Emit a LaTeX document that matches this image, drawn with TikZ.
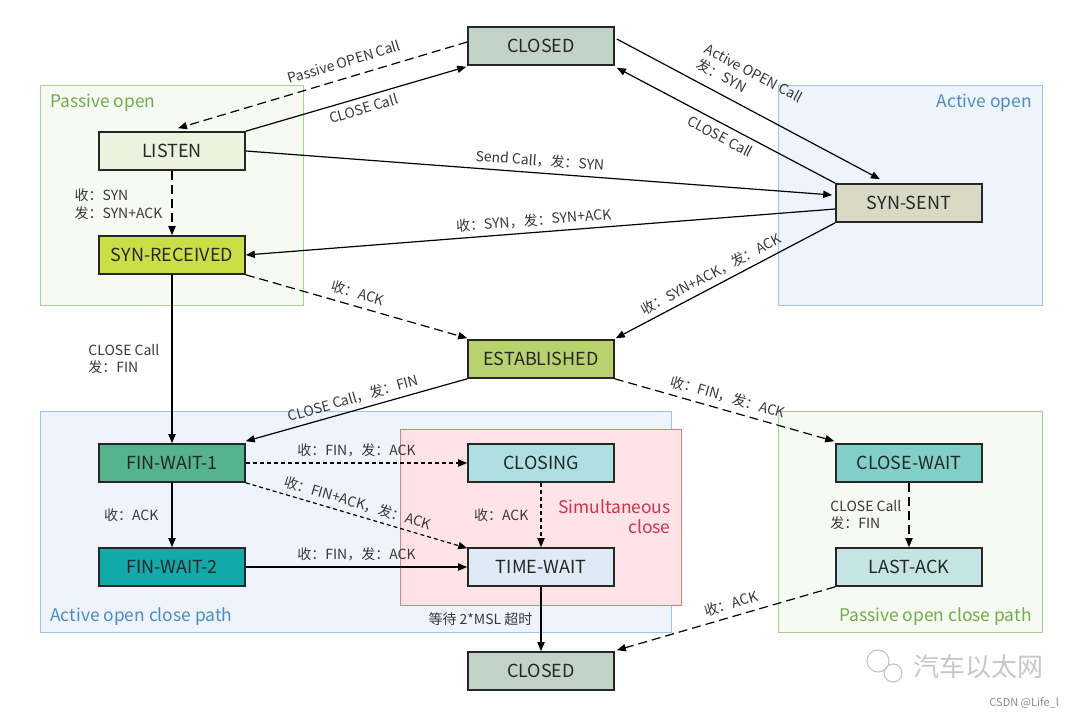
\documentclass[tikz,border=0pt]{standalone}
\usepackage{fontspec}
\setmainfont{Noto Sans CJK SC}
\usepackage{xcolor}
\usepackage{tikz}
\usetikzlibrary{arrows, arrows.meta}
\usetikzlibrary{calc}

\definecolor{fillClosed}{HTML}{C0D3C5}
\definecolor{fillListen}{HTML}{EBF3DF}
\definecolor{fillSynRcvd}{HTML}{CADF45}
\definecolor{fillSynSent}{HTML}{D8DAC5}
\definecolor{fillEstab}{HTML}{B8D26E}
\definecolor{fillFinOne}{HTML}{55B48F}
\definecolor{fillFinTwo}{HTML}{12A9AA}
\definecolor{fillClosing}{HTML}{AEDFE3}
\definecolor{fillTimeWait}{HTML}{DEEAF5}
\definecolor{fillCloseWait}{HTML}{80D0C9}
\definecolor{fillLastAck}{HTML}{C5E4E4}
\definecolor{grpGreen}{HTML}{A9D18E}
\definecolor{grpGreenFill}{HTML}{F6FAF2}
\definecolor{grpGreenText}{HTML}{70AD47}
\definecolor{grpBlue}{HTML}{9DC3E6}
\definecolor{grpBlueFill}{HTML}{EEF4FB}
\definecolor{grpBlueText}{HTML}{4A8CCB}
\definecolor{grpRed}{HTML}{E07B80}
\definecolor{grpRedFill}{HTML}{FFE3E6}
\definecolor{grpRedText}{HTML}{D5304A}

\tikzset{
  stbox/.style={draw=black!85, line width=0.8pt, minimum width=73pt, minimum height=19pt,
    inner sep=0pt, font=\fontsize{9}{10}\selectfont, text=black!85},
  trans/.style={line width=0.6pt, -{Triangle[length=4.5pt,width=3.6pt]}},
  longdash/.style={dash pattern=on 4.5pt off 2.5pt},
  shortdash/.style={dash pattern=on 2pt off 1.5pt},
  lbl/.style={font=\fontsize{7}{8.6}\selectfont, text=black!78, inner sep=1.5pt},
  grplbl/.style={font=\fontsize{8.7}{10}\selectfont, inner sep=0pt},
}

\begin{document}
\begin{tikzpicture}[x=0.5pt, y=-0.5pt]
      \useasboundingbox[fill=white] (0,0) rectangle (1080,716);

      % groups
      \draw[line width=0.5pt, draw=grpGreen, fill=grpGreenFill] (40,86) rectangle (303,306);
      \draw[line width=0.5pt, draw=grpBlue, fill=grpBlueFill] (778,86) rectangle (1042,306);
      \draw[line width=0.5pt, draw=grpBlue, fill=grpBlueFill] (40,411) rectangle (671,632);
      \draw[line width=0.5pt, draw=grpRed, fill=grpRedFill] (400,429) rectangle (681,605);
      \draw[line width=0.5pt, draw=grpGreen, fill=grpGreenFill] (778,411) rectangle (1042,632);
      \node[grplbl, text=grpGreenText, anchor=west] (lblpo) at (50,103) {Passive open};
      \node[grplbl, text=grpBlueText, anchor=east] (lblao) at (1032,103) {Active open};
      \node[grplbl, text=grpBlueText, anchor=west] (lblaocp) at (50,617) {Active open close path};
      \node[grplbl, text=grpGreenText, anchor=east] (lblpocp) at (1032,617) {Passive open close path};
      \node[grplbl, text=grpRedText, anchor=east, align=right] (lblsim) at (671,517) {Simultaneous\\close};

      % states
      \node[stbox, fill=fillClosed] (closedtop) at (541,46) {CLOSED};
      \node[stbox, fill=fillListen] (listen) at (172,151) {LISTEN};
      \node[stbox, fill=fillSynRcvd] (synrcvd) at (172,255) {SYN-RECEIVED};
      \node[stbox, fill=fillSynSent] (synsent) at (909,203) {SYN-SENT};
      \node[stbox, fill=fillEstab] (estab) at (541,359) {ESTABLISHED};
      \node[stbox, fill=fillFinOne] (finwaitone) at (172,463) {FIN-WAIT-1};
      \node[stbox, fill=fillFinTwo] (finwaittwo) at (172,567) {FIN-WAIT-2};
      \node[stbox, fill=fillClosing] (closing) at (541,463) {CLOSING};
      \node[stbox, fill=fillTimeWait] (timewait) at (541,567) {TIME-WAIT};
      \node[stbox, fill=fillCloseWait] (closewait) at (909,463) {CLOSE-WAIT};
      \node[stbox, fill=fillLastAck] (lastack) at (909,567) {LAST-ACK};
      \node[stbox, fill=fillClosed] (closedbot) at (541,671) {CLOSED};

      % open
      \draw[trans, longdash] ($(closedtop.west)+(0,-4)$) -- node[lbl, sloped, above=3.5pt, pos=0.41] {Passive OPEN Call} ($(listen.north)+(6,-3)$);
      \draw[trans] (listen.north east) -- node[lbl, sloped, below=1pt, pos=0.52] {CLOSE Call} ($(closedtop.south west)+(-1,1)$);
      \draw[trans] ($(closedtop.east)+(2,-7)$) -- node[lbl, sloped, above=3.5pt, pos=0.46, align=left] {Active OPEN Call\\发：SYN} ($(synsent.north)+(-29,-4)$);
      \draw[trans] (synsent.north west) -- node[lbl, sloped, below=1.5pt, pos=0.5] {CLOSE Call} ($(closedtop.south east)+(2,2)$);
      \draw[trans] (listen.east) -- node[lbl, sloped, above=1pt, pos=0.5] {Send Call，发：SYN} ($(synsent.west)+(-3,-8)$);
      \draw[trans] ($(synsent.west)+(0,6)$) -- node[lbl, sloped, above=1pt, pos=0.51] {收：SYN，发：SYN+ACK} (synrcvd.east);
      \draw[trans, longdash] (listen.south) -- node[lbl, left=3pt, pos=0.52, align=left] {收：SYN\\发：SYN+ACK} (synrcvd.north);
      \draw[trans, longdash] (synrcvd.south east) -- node[lbl, sloped, above=1.5pt, pos=0.49] {收：ACK} ($(estab.north west)+(0,-1)$);
      \draw[trans] (synsent.south west) -- node[lbl, sloped, above=1pt, pos=0.54] {收：SYN+ACK，发：ACK} ($(estab.north east)+(1,-1)$);

      % close
      \draw[trans] (synrcvd.south) -- node[lbl, left=4.5pt, pos=0.5, align=left] {CLOSE Call\\发：FIN} (finwaitone.north);
      \draw[trans] (estab.south west) -- node[lbl, sloped, above=1pt, pos=0.5] {CLOSE Call，发：FIN} ($(finwaitone.north east)+(0,-2)$);
      \draw[trans, longdash] (estab.south east) -- node[lbl, sloped, above=1.5pt, pos=0.5] {收：FIN，发：ACK} ($(closewait.north west)+(-1,-2)$);
      \draw[trans, shortdash] (finwaitone.east) -- node[lbl, above=1pt, pos=0.5] {收：FIN，发：ACK} (closing.west);
      \draw[trans, shortdash] (finwaitone.south east) -- node[lbl, sloped, above=1pt, pos=0.49] {收：FIN+ACK，发：ACK} ($(timewait.north west)+(0,1)$);
      \draw[trans] (finwaitone.south) -- node[lbl, left=5pt, pos=0.5] {收：ACK} (finwaittwo.north);
      \draw[trans] (finwaittwo.east) -- node[lbl, above=1pt, pos=0.5] {收：FIN，发：ACK} (timewait.west);
      \draw[trans, shortdash] (closing.south) -- node[lbl, left=4.5pt, pos=0.5] {收：ACK} (timewait.north);
      \draw[trans] (timewait.south) -- node[lbl, left=2.5pt, pos=0.5] {等待 2*MSL 超时} (closedbot.north);
      \draw[trans, longdash] (closewait.south) -- node[lbl, left=2pt, pos=0.5, align=left] {CLOSE Call\\发：FIN} (lastack.north);
      \draw[trans, longdash] (lastack.south west) -- node[lbl, sloped, above=1.5pt, pos=0.46] {收：ACK} ($(closedbot.north east)+(2,-1)$);

      % watermark
      \draw[black!25, line width=0.5pt] (878,661) circle (11) (893,673) circle (9);
      \node[text=black!22, font=\fontsize{13}{14}\selectfont, anchor=west] (wmark) at (906,667) {汽车以太网};
      \node[text=black!45, font=\fontsize{5.5}{6}\selectfont, anchor=east] (csdn) at (1066,703) {CSDN @Life\_l};
\end{tikzpicture}
\end{document}
